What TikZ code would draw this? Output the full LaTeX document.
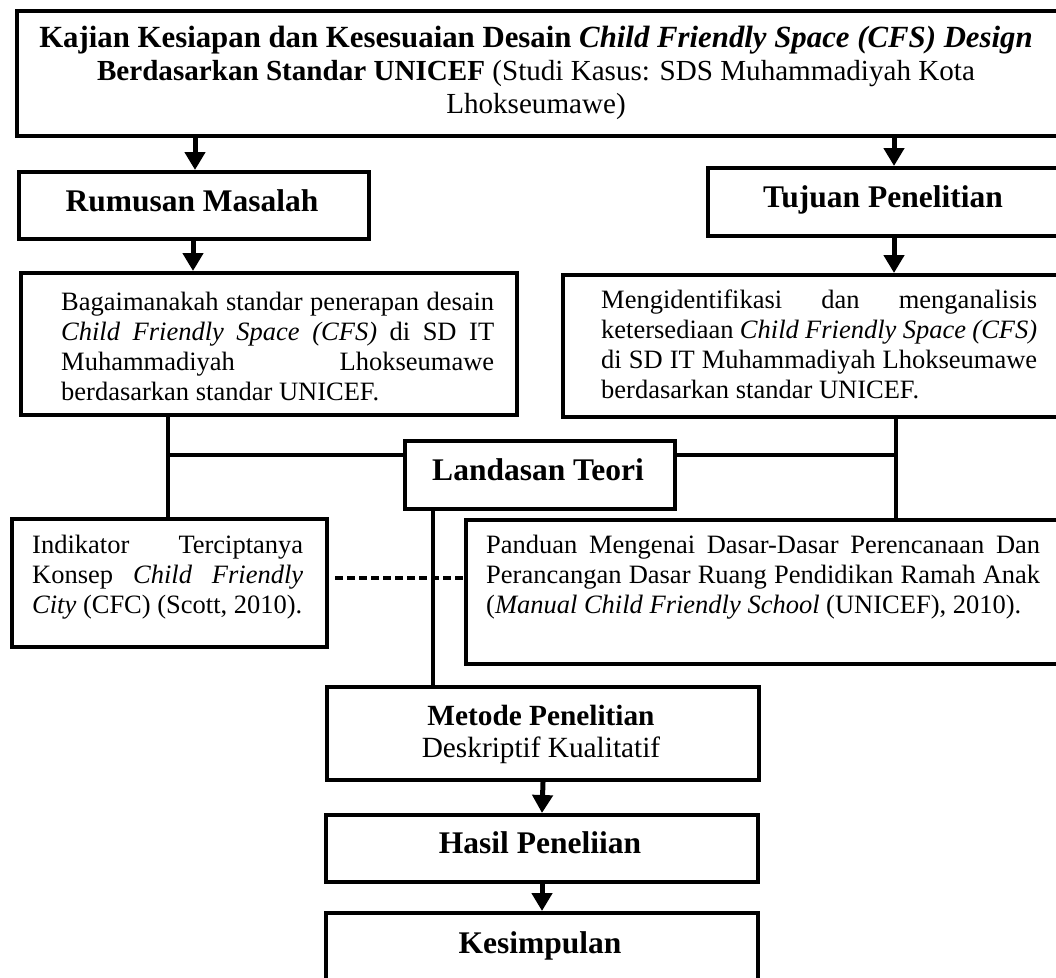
\documentclass[tikz,border=0pt]{standalone}
\usepackage{fontspec}
\setmainfont{Liberation Serif}
\usetikzlibrary{arrows.meta}
\newcommand{\jl}[1]{\makebox[\linewidth][s]{#1}\par}
\newcommand{\lftl}[1]{\makebox[\linewidth][l]{#1}\par}
\newcommand{\bodyfont}{\fontsize{26.5pt}{30pt}\selectfont}
\newcommand{\topfontA}{\fontsize{30.8pt}{33pt}\selectfont}
\newcommand{\topfontB}{\fontsize{29.1pt}{33pt}\selectfont}
\newcommand{\midfont}{\fontsize{29.3pt}{32pt}\selectfont}
\newcommand{\ttlfont}{\fontsize{31.5pt}{36pt}\selectfont\bfseries}
\begin{document}
\begin{tikzpicture}[x=1pt,y=-1pt,
  box/.style={draw, line width=4pt, inner sep=0pt, anchor=north west},
  txt/.style={inner sep=0pt},
  ttl/.style={inner sep=0pt, anchor=base, font=\ttlfont},
  arr/.style={line width=5pt, -{Triangle[length=18pt,width=20pt]}},
  ln/.style={line width=4pt},
  dsh/.style={line width=4pt, dash pattern=on 8pt off 4pt}]
\useasboundingbox (0,0) rectangle (1056,977);
\clip (0,0) rectangle (1056,977);
% boxes
\node[box, minimum width=1065pt, minimum height=125pt] (top) at (15,9) {};
\node[box, minimum width=350pt, minimum height=67pt] (rm) at (17,170) {};
\node[box, minimum width=374pt, minimum height=68pt] (tj) at (706,166) {};
\node[box, minimum width=496pt, minimum height=142pt] (bg) at (19,271) {};
\node[box, minimum width=519pt, minimum height=142pt] (mg) at (561,273) {};
\node[box, minimum width=270pt, minimum height=68pt] (lt) at (403,439) {};
\node[box, minimum width=315pt, minimum height=128pt] (ind) at (10,517) {};
\node[box, minimum width=616pt, minimum height=144pt] (pd) at (464,518) {};
\node[box, minimum width=432pt, minimum height=93pt] (mt) at (325,685) {};
\node[box, minimum width=432pt, minimum height=67pt] (hs) at (324,813) {};
\node[box, minimum width=432pt, minimum height=90pt] (ks) at (324,911) {};
% texts
\node[txt, anchor=base] (topT) at (536,47) {\begin{minipage}[t]{1040pt}\centering
\topfontA\textbf{Kajian Kesiapan dan Kesesuaian Desain \textit{Child Friendly Space (CFS) Design}}\par
\topfontB\textbf{Berdasarkan Standar UNICEF} (Studi Kasus: SDS Muhammadiyah Kota\par
Lhokseumawe)\par\end{minipage}};
\node[ttl] (rmT) at (192,211) {Rumusan Masalah};
\node[ttl] (tjT) at (883,207) {Tujuan Penelitian};
\node[txt, anchor=base west] (bgT) at (61,310) {\begin{minipage}[t]{433pt}\bodyfont
\jl{Bagaimanakah standar penerapan desain}
\jl{\textit{Child Friendly Space (CFS)} di SD IT}
\jl{Muhammadiyah Lhokseumawe}
\lftl{berdasarkan standar UNICEF.}\end{minipage}};
\node[txt, anchor=base west] (mgT) at (601,308) {\begin{minipage}[t]{436pt}\bodyfont
\jl{Mengidentifikasi dan menganalisis}
\jl{ketersediaan \textit{Child Friendly Space (CFS)}}
\jl{di SD IT Muhammadiyah Lhokseumawe}
\lftl{berdasarkan standar UNICEF.}\end{minipage}};
\node[ttl] (ltT) at (538,480) {Landasan Teori};
\node[txt, anchor=base west] (indT) at (32,553) {\begin{minipage}[t]{271pt}\bodyfont
\jl{Indikator Terciptanya}
\jl{Konsep \textit{Child Friendly}}
\lftl{\textit{City} (CFC) (Scott, 2010).}\end{minipage}};
\node[txt, anchor=base west] (pdT) at (486,553) {\begin{minipage}[t]{554pt}\bodyfont
\jl{Panduan Mengenai Dasar-Dasar Perencanaan Dan}
\jl{Perancangan Dasar Ruang Pendidikan Ramah Anak}
\lftl{(\textit{Manual Child Friendly School} (UNICEF), 2010).}\end{minipage}};
\node[txt, anchor=base] (mtT) at (541,725) {\begin{minipage}[t]{420pt}\midfont\centering
\textbf{Metode Penelitian}\par
Deskriptif Kualitatif\par\end{minipage}};
\node[ttl] (hsT) at (540,853) {Hasil Peneliian};
\node[ttl] (ksT) at (540,953) {Kesimpulan};
% helper coordinates
\coordinate (cl) at (195,0);
\coordinate (cl2) at (193,0);
\coordinate (cr) at (894,0);
\coordinate (vl) at (168,0);
\coordinate (vr) at (896,0);
\coordinate (vm) at (433,0);
\coordinate (hy) at (0,455);
\coordinate (dy) at (0,578);
% connectors
\draw[arr] (top.south -| cl) -- (rm.north -| cl);
\draw[arr] (top.south -| cr) -- (tj.north -| cr);
\draw[arr] (rm.south -| cl2) -- (bg.north -| cl2);
\draw[arr] (tj.south -| cr) -- (mg.north -| cr);
\draw[ln] (bg.south -| vl) -- (ind.north -| vl);
\draw[ln] (lt.west |- hy) -- (vl |- hy);
\draw[ln] (lt.east |- hy) -- (vr |- hy);
\draw[ln] (mg.south -| vr) -- (pd.north -| vr);
\draw[ln] (lt.south -| vm) -- (mt.north -| vm);
\draw[dsh] ([xshift=6pt]ind.east |- dy) -- (pd.west |- dy);
\draw[arr] (mt.south) -- (hs.north);
\draw[arr] (hs.south) -- (ks.north);
\end{tikzpicture}
\end{document}
